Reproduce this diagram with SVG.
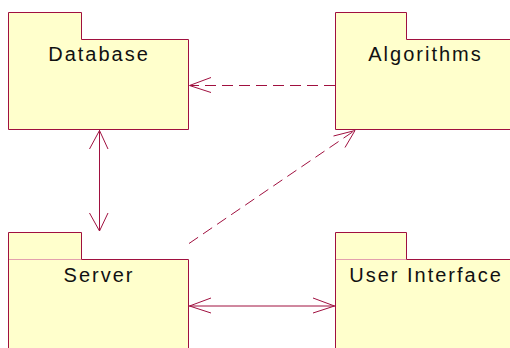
<svg xmlns="http://www.w3.org/2000/svg" width="510" height="348" viewBox="0 0 510 348">
  <style>
    .pkg { fill: #FFFFCC; stroke: #A0103F; stroke-width: 1; }
    .sep { stroke: #E3A0AE; stroke-width: 1; fill: none; }
    .label { font-family: "Liberation Sans", Arial, sans-serif; font-size: 20px; letter-spacing: 2px; fill: #111111; text-anchor: middle; }
    .conn { stroke: #A0103F; stroke-width: 1; fill: none; }
    .dash { stroke-dasharray: 11 6; }
  </style>

  <!-- package: Database -->
  <g id="database">
    <path class="pkg" d="M8.5,12.5 H81.5 V39.5 H188.5 V129.5 H8.5 Z"/>
    <text class="label" x="99" y="61">Database</text>
  </g>

  <!-- package: Algorithms -->
  <g id="algorithms">
    <path class="pkg" d="M335.5,12.5 H406.5 V39.5 H520 V129.5 H335.5 Z"/>
    <text class="label" x="425.5" y="61">Algorithms</text>
  </g>

  <!-- package: Server -->
  <g id="server">
    <path class="pkg" d="M8.5,232.5 H81.5 V259.5 H188.5 V360 H8.5 Z"/>
    <line class="sep" x1="9" y1="259.5" x2="81" y2="259.5"/>
    <text class="label" x="99" y="282">Server</text>
  </g>

  <!-- package: User Interface -->
  <g id="user-interface">
    <path class="pkg" d="M335.5,232.5 H406.5 V259.5 H520 V360 H335.5 Z"/>
    <line class="sep" x1="336" y1="259.5" x2="406" y2="259.5"/>
    <text class="label" x="426" y="282">User Interface</text>
  </g>

  <!-- dependencies and associations -->
  <g id="connectors">
    <!-- Algorithms depends on Database -->
    <line class="conn dash" x1="335" y1="85.5" x2="190" y2="85.5"/>
    <polyline class="conn" points="211,77.5 189.5,85.5 211,92.5"/>

    <!-- Database <-> Server -->
    <line class="conn" x1="99.5" y1="130" x2="99.5" y2="231"/>
    <polyline class="conn" points="89.5,149 99.5,130.5 108,149"/>
    <polyline class="conn" points="89.5,213 99.5,231 108,213"/>

    <!-- Server <-> User Interface -->
    <line class="conn" x1="189" y1="306" x2="335" y2="306"/>
    <polyline class="conn" points="211,298 189.5,306 211,313"/>
    <polyline class="conn" points="313,298 334.5,306 313,313"/>

    <!-- Server depends on Algorithms -->
    <line class="conn dash" x1="189" y1="243.5" x2="354" y2="131"/>
    <polyline class="conn" points="333.5,136 355,130.5 345,147.5"/>
  </g>
</svg>
